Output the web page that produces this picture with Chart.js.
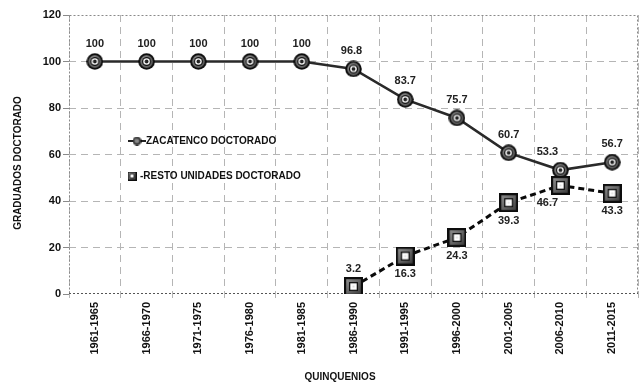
<!DOCTYPE html>
<html>
<head>
<meta charset="utf-8">
<script src="https://cdn.jsdelivr.net/npm/chart.js@4/dist/chart.umd.min.js"></script>
<style>
html,body{margin:0;padding:0;background:#fff;}
#wrap{width:643px;height:385px;position:relative;}
</style>
</head>
<body>
<div id="wrap"><canvas id="c" width="643" height="385"></canvas></div>
<script>
const categories = ["1961-1965","1966-1970","1971-1975","1976-1980","1981-1985","1986-1990","1991-1995","1996-2000","2001-2005","2006-2010","2011-2015"];
const zacatenco = [100,100,100,100,100,96.8,83.7,75.7,60.7,53.3,56.7];
const resto = [null,null,null,null,null,3.2,16.3,24.3,39.3,46.7,43.3];
const seriesNames = ["ZACATENCO DOCTORADO","RESTO UNIDADES DOCTORADO"];
const yTicks = [0,20,40,60,80,100,120];
const axisTitles = {x:"QUINQUENIOS", y:"GRADUADOS DOCTORADO"};

const FONT = "'Liberation Sans', Arial, sans-serif";

function circleMarker(size){
  const c = document.createElement('canvas');
  c.width = size; c.height = size;
  const g = c.getContext('2d');
  const m = size/2, s = size/17;
  g.beginPath(); g.arc(m,m,8.3*s,0,Math.PI*2); g.fillStyle='#0d0d0d'; g.fill();
  const gr = g.createRadialGradient(m-2*s,m-2*s,1,m,m,7*s);
  gr.addColorStop(0,'#b8b8b8'); gr.addColorStop(1,'#4a4a4a');
  g.beginPath(); g.arc(m,m,6.4*s,0,Math.PI*2); g.fillStyle=gr; g.fill();
  g.beginPath(); g.arc(m,m,4.6*s,0,Math.PI*2); g.fillStyle='#111'; g.fill();
  g.beginPath(); g.arc(m,m,3.3*s,0,Math.PI*2); g.fillStyle='#ffffff'; g.fill();
  g.beginPath(); g.arc(m,m,1.9*s,0,Math.PI*2); g.fillStyle='#222'; g.fill();
  return c;
}
function squareMarker(size){
  const c = document.createElement('canvas');
  c.width = size; c.height = size;
  const g = c.getContext('2d');
  const s = size/19;
  g.fillStyle='#0d0d0d'; g.fillRect(0,0,size,size);
  const gr = g.createLinearGradient(0,0,size,size);
  gr.addColorStop(0,'#9a9a9a'); gr.addColorStop(1,'#333');
  g.fillStyle=gr; g.fillRect(2.2*s,2.2*s,size-4.4*s,size-4.4*s);
  g.fillStyle='#111'; g.fillRect(5*s,5*s,size-10*s,size-10*s);
  g.fillStyle='#ffffff'; g.fillRect(6.3*s,6.3*s,size-12.6*s,size-12.6*s);
  g.fillStyle='#e0e0e0'; g.fillRect(8.5*s,8.5*s,size-17*s,size-17*s);
  return c;
}
const circImg = circleMarker(17);
const sqImg = squareMarker(19);
const circSmall = circleMarker(9);
const sqSmall = squareMarker(9);

const labelOffsets = [
  zacatenco.map((v,i)=> ({dx: i===9 ? -13 : (i===5 ? -2 : 0), dy: -18})),
  resto.map((v,i)=> ({dx: i===9 ? -13 : 0, dy: i===5 ? -18 : 18}))
];

const plotFrame = {
  id:'plotFrame',
  beforeDatasetsDraw(chart){
    const {ctx, chartArea:a} = chart;
    ctx.save();
    ctx.strokeStyle='#8a8a8a'; ctx.lineWidth=1; ctx.setLineDash([2,2]);
    ctx.beginPath();
    ctx.moveTo(a.left+0.5,a.top+0.5); ctx.lineTo(a.right-0.5,a.top+0.5);
    ctx.lineTo(a.right-0.5,a.bottom-0.5);
    ctx.moveTo(a.left+0.5,a.top+0.5); ctx.lineTo(a.left+0.5,a.bottom-0.5);
    ctx.stroke();
    ctx.strokeStyle='#555';
    ctx.beginPath(); ctx.moveTo(a.left,a.bottom-0.5); ctx.lineTo(a.right,a.bottom-0.5); ctx.stroke();
    ctx.restore();
  }
};

const dataLabels = {
  id:'dataLabels',
  afterDatasetsDraw(chart){
    const ctx = chart.ctx;
    ctx.save();
    ctx.font = "bold 11px " + FONT;
    ctx.fillStyle = '#222';
    ctx.textAlign='center'; ctx.textBaseline='middle';
    chart.data.datasets.forEach((ds,di)=>{
      const meta = chart.getDatasetMeta(di);
      meta.data.forEach((pt,i)=>{
        const v = ds.data[i];
        if(v===null || v===undefined) return;
        const o = labelOffsets[di][i];
        ctx.fillText(String(v), pt.x+o.dx, pt.y+o.dy);
      });
    });
    ctx.restore();
  }
};

const customLegend = {
  id:'customLegend',
  afterDraw(chart){
    const ctx = chart.ctx;
    ctx.save();
    ctx.font = "bold 10px " + FONT;
    ctx.fillStyle='#111'; ctx.textBaseline='middle'; ctx.textAlign='left';
    let y = 141;
    ctx.strokeStyle='#222'; ctx.lineWidth=2; ctx.setLineDash([]);
    ctx.beginPath(); ctx.moveTo(128,y); ctx.lineTo(146,y); ctx.stroke();
    ctx.drawImage(circSmall,137-4.5,y-4.5);
    ctx.fillText(seriesNames[0],146,y);
    y = 176;
    ctx.lineWidth=2.5;
    ctx.beginPath(); ctx.moveTo(128,y); ctx.lineTo(136,y); ctx.stroke();
    ctx.drawImage(sqSmall,132-4.5,y-4.5);
    ctx.fillText("-" + seriesNames[1],140,y);
    ctx.textAlign='center';
    ctx.fillText(axisTitles.x, 340, 377);
    ctx.translate(18, 163);
    ctx.rotate(-Math.PI/2);
    ctx.fillText(axisTitles.y, 0, 0);
    ctx.restore();
  }
};

new Chart(document.getElementById('c'), {
  type:'line',
  data:{
    labels: categories,
    datasets:[
      {label:seriesNames[0], data:zacatenco, borderColor:'#2a2a2a', borderWidth:2.6, order:2,
       pointStyle:circImg, pointRadius:8, tension:0, spanGaps:false},
      {label:seriesNames[1], data:resto, borderColor:'#0a0a0a', borderWidth:3, borderDash:[6,4], order:1,
       pointStyle:sqImg, pointRadius:9, tension:0, spanGaps:false}
    ]
  },
  options:{
    responsive:false, animation:false, devicePixelRatio:1,
    layout:{padding:{left:0,top:15,right:5,bottom:0}},
    plugins:{legend:{display:false}, tooltip:{enabled:false}},
    scales:{
      x:{
        offset:true,
        grid:{offset:true, color:'#b5b5b5', lineWidth:1, tickLength:4, drawTicks:true},
        border:{display:false, dash:[7,5]},
        ticks:{autoSkip:false, maxRotation:90, minRotation:90, padding:4,
               font:{family:FONT, size:11, weight:'bold'}, color:'#111'},
        title:{display:false, text:axisTitles.x},
        afterFit(s){ s.height = 91; s.paddingLeft = 0; s.paddingRight = 0; s.paddingTop = 0; s.paddingBottom = 0; }
      },
      y:{
        min:0, max:120,
        afterBuildTicks(s){ s.ticks = yTicks.map(v=>({value:v})); },
        grid:{color:(c)=> (c.tick && (c.tick.value===0 || c.tick.value===120)) ? 'rgba(0,0,0,0)' : '#b5b5b5',
              tickColor:'#8a8a8a', tickLength:6},
        border:{display:false, dash:[7,5]},
        ticks:{padding:2, font:{family:FONT, size:11, weight:'bold'}, color:'#111'},
        title:{display:false, text:axisTitles.y},
        afterFit(s){ s.width = 69; s.paddingTop = 0; s.paddingBottom = 0; s.paddingLeft = 0; s.paddingRight = 0; }
      }
    }
  },
  plugins:[plotFrame, dataLabels, customLegend, {
    id:'fixArea',
    afterLayout(chart){
      const a = chart.chartArea;
      const xs = chart.scales.x;
      const targetRight = 638;
      if (a.right !== targetRight) {
        a.right = targetRight; a.width = a.right - a.left;
        xs.right = targetRight; xs.width = xs.right - xs.left;
        xs.configure();
        chart.scales.y.configure();
      }
    }
  }]
});
</script>
</body>
</html>
